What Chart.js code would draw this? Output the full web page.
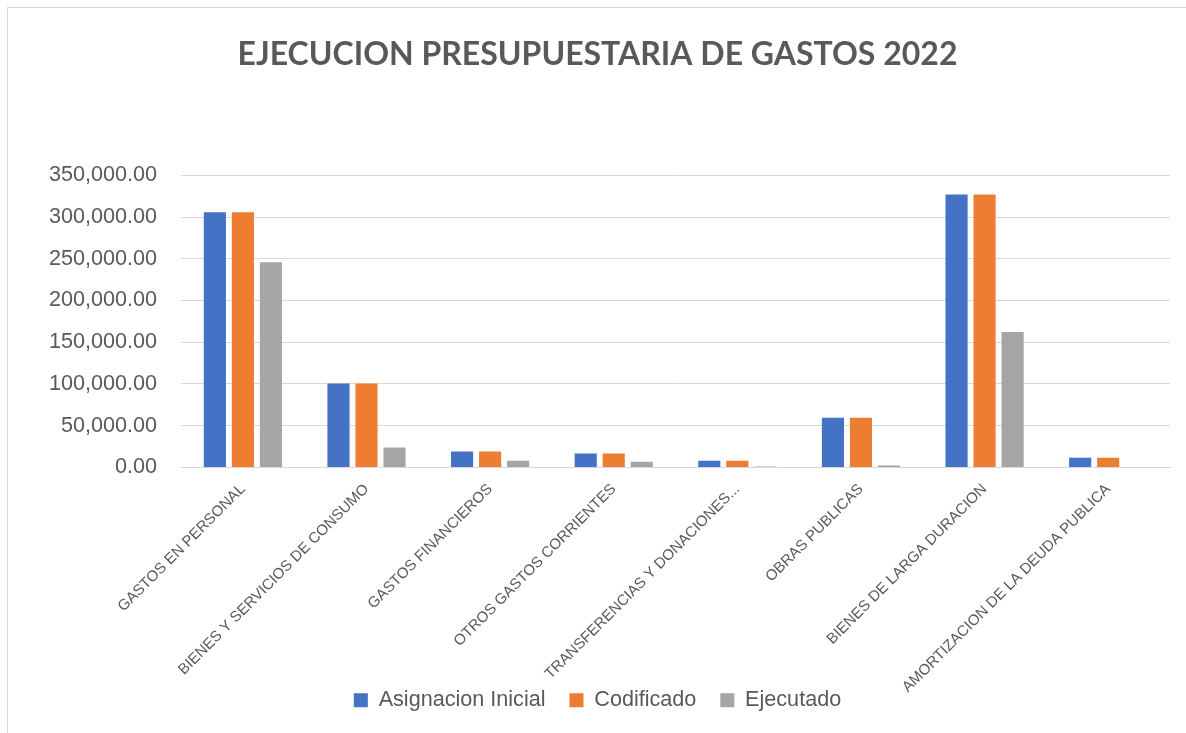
<!DOCTYPE html>
<html>
<head>
<meta charset="utf-8">
<script src="https://cdn.jsdelivr.net/npm/chart.js@4.4.1/dist/chart.umd.min.js"></script>
<style>
  html, body { margin: 0; padding: 0; background: #fff; overflow: hidden; }
  #wrap { position: relative; width: 1186px; height: 733px; }
  #frame { position: absolute; left: 7px; top: 7px; width: 1300px; height: 900px; border: 1px solid #d9d9d9; box-sizing: border-box; }
  canvas { position: absolute; left: 0; top: 0; }
</style>
</head>
<body>
<div id="wrap">
  <div id="frame"></div>
  <canvas id="gastosChart" width="1186" height="733"></canvas>
</div>
<script>
const categories = [
  'GASTOS EN PERSONAL',
  'BIENES Y SERVICIOS DE CONSUMO',
  'GASTOS FINANCIEROS',
  'OTROS GASTOS CORRIENTES',
  'TRANSFERENCIAS Y DONACIONES...',
  'OBRAS PUBLICAS',
  'BIENES DE LARGA DURACION',
  'AMORTIZACION DE LA DEUDA PUBLICA'
];
const asignacionInicial = [305900, 100700, 19200, 16800, 8000, 59600, 327200, 11600];
const codificado = [305900, 100700, 19200, 16800, 8000, 59600, 327200, 11600];
const ejecutado = [246000, 24000, 8000, 6800, 1200, 2400, 162200, 0];

const textColor = '#595959';
const gridColor = '#d9d9d9';

const fmt = new Intl.NumberFormat('en-US', { minimumFractionDigits: 2, maximumFractionDigits: 2 });

// let the rotated category labels run below the shortened x axis box
const unclipLabels = {
  id: 'unclipLabels',
  afterLayout(chart) {
    chart.scales.x.bottom = chart.height;
  }
};

const data = {
  labels: categories,
  datasets: [
    { label: 'Asignacion Inicial', data: asignacionInicial, backgroundColor: '#4472C4' },
    { label: 'Codificado', data: codificado, backgroundColor: '#ED7D31' },
    { label: 'Ejecutado', data: ejecutado, backgroundColor: '#A5A5A5' }
  ]
};

const config = {
  type: 'bar',
  data: data,
  plugins: [unclipLabels],
  options: {
    responsive: false,
    animation: false,
    datasets: {
      bar: { categoryPercentage: 0.68, barPercentage: 0.79 }
    },
    layout: { padding: { left: 25, right: 16, top: 35, bottom: 12 } },
    plugins: {
      title: {
        display: true,
        text: 'EJECUCION PRESUPUESTARIA DE GASTOS 2022',
        color: textColor,
        font: { family: 'Lato', size: 32, weight: 'bold' },
        padding: { top: 0, bottom: 102 }
      },
      legend: {
        position: 'bottom',
        labels: {
          color: textColor,
          font: { family: 'Liberation Sans', size: 21.6 },
          boxWidth: 14,
          boxHeight: 14,
          padding: 24
        }
      },
      tooltip: { enabled: false }
    },
    scales: {
      x: {
        grid: { display: false, drawTicks: false },
        border: { color: gridColor, width: 1 },
        ticks: {
          color: textColor,
          font: { family: 'Liberation Sans', size: 15 },
          minRotation: 45,
          maxRotation: 45,
          autoSkip: false,
          padding: 13
        },
        afterFit(scale) { scale.height = 198; }
      },
      y: {
        min: 0,
        max: 350000,
        grid: { color: gridColor, drawTicks: false },
        border: { display: false },
        ticks: {
          stepSize: 50000,
          color: textColor,
          font: { family: 'Liberation Sans', size: 21.6 },
          padding: 24,
          callback: v => fmt.format(v)
        }
      }
    }
  }
};

new Chart(document.getElementById('gastosChart'), config);
</script>
</body>
</html>
